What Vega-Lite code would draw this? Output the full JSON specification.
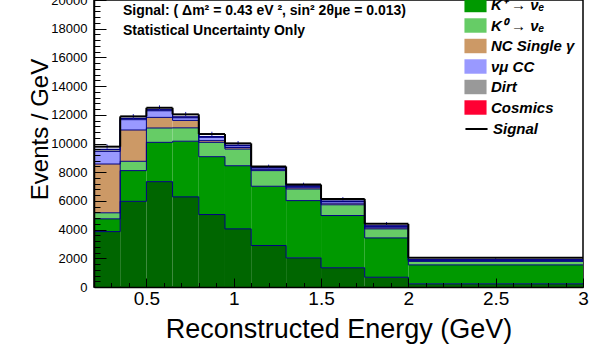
{
  "$schema": "https://vega.github.io/schema/vega-lite/v6.json",
  "width": 489,
  "height": 287,
  "autosize": {"type": "none"},
  "padding": {"left": 94, "top": 0, "right": 32, "bottom": 63},
  "background": "white",
  "config": {
    "view": {"stroke": "black", "strokeWidth": 1.5},
    "font": "Liberation Sans",
    "axis": {"labelFont": "Liberation Sans", "titleFont": "Liberation Sans"}
  },
  "title": {
    "text": ["Signal: ( Δm² = 0.43 eV ², sin² 2θμe = 0.013)", "Statistical Uncertainty Only"],
    "anchor": "start",
    "frame": "group",
    "orient": "top",
    "baseline": "top",
    "offset": 0,
    "dx": 29,
    "dy": 62,
    "fontSize": 14,
    "fontWeight": "bold",
    "font": "Liberation Sans",
    "color": "black",
    "lineHeight": 20
  },
  "datasets": {
    "bins": [
      {"lo": 0.2, "hi": 0.35, "mu": 3860, "kp": 890, "k0": 420, "ncg": 3400, "numu": 880, "dirt": 130, "cos": 20, "sig": 180},
      {"lo": 0.35, "hi": 0.5, "mu": 5970, "kp": 2140, "k0": 650, "ncg": 2180, "numu": 720, "dirt": 80, "cos": 20, "sig": 130},
      {"lo": 0.5, "hi": 0.65, "mu": 7340, "kp": 2740, "k0": 1000, "ncg": 740, "numu": 460, "dirt": 60, "cos": 20, "sig": 130},
      {"lo": 0.65, "hi": 0.8, "mu": 6280, "kp": 3880, "k0": 930, "ncg": 520, "numu": 180, "dirt": 50, "cos": 20, "sig": 170},
      {"lo": 0.8, "hi": 0.95, "mu": 5050, "kp": 4030, "k0": 1000, "ncg": 120, "numu": 230, "dirt": 40, "cos": 20, "sig": 170},
      {"lo": 0.95, "hi": 1.1, "mu": 4050, "kp": 4400, "k0": 1160, "ncg": 110, "numu": 120, "dirt": 30, "cos": 10, "sig": 130},
      {"lo": 1.1, "hi": 1.3, "mu": 2890, "kp": 4130, "k0": 1090, "ncg": 90, "numu": 100, "dirt": 20, "cos": 10, "sig": 70},
      {"lo": 1.3, "hi": 1.5, "mu": 2030, "kp": 3990, "k0": 810, "ncg": 90, "numu": 100, "dirt": 20, "cos": 10, "sig": 90},
      {"lo": 1.5, "hi": 1.75, "mu": 1340, "kp": 3640, "k0": 750, "ncg": 110, "numu": 120, "dirt": 20, "cos": 10, "sig": 150},
      {"lo": 1.75, "hi": 2.0, "mu": 680, "kp": 2740, "k0": 630, "ncg": 80, "numu": 100, "dirt": 20, "cos": 10, "sig": 140},
      {"lo": 2.0, "hi": 3.0, "mu": 220, "kp": 1320, "k0": 250, "ncg": 30, "numu": 60, "dirt": 10, "cos": 10, "sig": 130}
    ],
    "errs": [
      {"x": 0.275, "lo": 9630, "hi": 9930},
      {"x": 0.425, "lo": 11730, "hi": 12050},
      {"x": 0.575, "lo": 12320, "hi": 12660},
      {"x": 0.725, "lo": 11860, "hi": 12200},
      {"x": 0.875, "lo": 10500, "hi": 10820},
      {"x": 1.025, "lo": 9850, "hi": 10170},
      {"x": 1.2, "lo": 8270, "hi": 8530},
      {"x": 1.4, "lo": 7010, "hi": 7270},
      {"x": 1.625, "lo": 6020, "hi": 6260},
      {"x": 1.875, "lo": 4270, "hi": 4530},
      {"x": 2.5, "lo": 1970, "hi": 2090}
    ]
  },
  "resolve": {"axis": {"x": "independent", "y": "independent"}},
  "layer": [
    {
      "data": {"name": "bins"},
      "transform": [
        {"fold": ["mu", "kp", "k0", "ncg", "numu", "dirt", "cos", "sig"], "as": ["comp", "n"]},
        {"stack": "n", "groupby": ["lo"], "as": ["y0", "y1"]},
        {"filter": "datum.comp !== 'sig'"}
      ],
      "mark": {"type": "rect", "strokeWidth": 0},
      "encoding": {
        "x": {
          "field": "lo", "type": "quantitative",
          "scale": {"domain": [0.2, 3], "nice": false, "zero": false},
          "axis": {
            "orient": "bottom", "values": [0.5, 1, 1.5, 2, 2.5, 3], "format": "~g",
            "labelFontSize": 19, "labelColor": "black", "labelFlush": false, "labelOverlap": false,
            "tickSize": -9, "tickColor": "black", "tickWidth": 1,
            "domainColor": "black", "domainWidth": 1.5, "labelPadding": 11, "grid": false, "zindex": 1,
            "title": "Reconstructed Energy (GeV)", "titleFontSize": 27, "titleFontWeight": "normal",
            "titleColor": "black", "titlePadding": 8
          }
        },
        "x2": {"field": "hi"},
        "y": {
          "field": "y0", "type": "quantitative",
          "scale": {"domain": [0, 20000], "nice": false},
          "axis": {
            "orient": "left", "values": [0, 2000, 4000, 6000, 8000, 10000, 12000, 14000, 16000, 18000, 20000],
            "format": "d", "labelFontSize": 13, "labelColor": "black", "labelFlush": false, "labelOverlap": false,
            "tickSize": -12, "tickColor": "black", "tickWidth": 1,
            "domainColor": "black", "domainWidth": 1.5, "labelPadding": 19, "grid": false, "zindex": 1,
            "title": "Events / GeV", "titleFontSize": 24, "titleFontWeight": "normal", "titleColor": "black",
            "titleX": -47, "titleY": 129, "titleAlign": "center", "titleBaseline": "alphabetic", "titleAngle": 270
          }
        },
        "y2": {"field": "y1"},
        "color": {
          "field": "comp", "type": "nominal",
          "scale": {
            "domain": ["mu", "kp", "k0", "ncg", "numu", "dirt", "cos"],
            "range": ["#006600", "#009900", "#66cc66", "#cc9966", "#9999ff", "#999999", "#ff0033"]
          },
          "legend": {
            "orient": "none", "legendX": 373, "legendY": -24, "title": null, "padding": 0,
            "symbolType": "M-1.3,-0.85H1.3V0.85H-1.3Z", "symbolStrokeWidth": 0,
            "symbolSize": 289, "labelFontSize": 15, "labelFont": "Liberation Sans",
            "labelFontWeight": "bold", "labelFontStyle": "italic", "labelColor": "black",
            "labelOffset": 7, "rowPadding": 3.5, "symbolOpacity": 1, "labelLimit": 200,
            "labelExpr": "{'mu': 'μ → νₑ', 'kp': 'K⁺ → νₑ', 'k0': 'K⁰ → νₑ', 'ncg': 'NC Single γ', 'numu': 'νμ CC', 'dirt': 'Dirt', 'cos': 'Cosmics'}[datum.value]"
          }
        }
      }
    },
    {
      "data": {"name": "bins"},
      "transform": [
        {"fold": ["mu", "kp", "k0", "ncg", "numu", "dirt", "cos", "sig"], "as": ["comp", "n"]},
        {"stack": "n", "groupby": ["lo"], "as": ["y0", "y1"]},
        {"filter": "datum.comp !== 'sig'"}
      ],
      "mark": {"type": "rule", "color": "#000080", "strokeWidth": 1},
      "encoding": {
        "x": {"field": "lo", "type": "quantitative", "axis": null},
        "x2": {"field": "hi"},
        "y": {"field": "y1", "type": "quantitative", "axis": null}
      }
    },
    {
      "data": {"name": "bins"},
      "transform": [
        {"fold": ["mu", "kp", "k0", "ncg", "numu", "dirt", "cos", "sig"], "as": ["comp", "n"]},
        {"stack": "n", "groupby": ["lo"], "as": ["y0", "y1"]},
        {"filter": "datum.comp !== 'sig'"},
        {"window": [{"op": "lead", "field": "y1", "as": "y1n"}], "groupby": ["comp"], "sort": [{"field": "lo"}]},
        {"filter": "isValid(datum.y1n)"}
      ],
      "mark": {"type": "rule", "color": "#000080", "strokeWidth": 1},
      "encoding": {
        "x": {"field": "hi", "type": "quantitative", "axis": null},
        "y": {"field": "y1", "type": "quantitative", "axis": null},
        "y2": {"field": "y1n"}
      }
    },
    {
      "data": {"name": "errs"},
      "mark": {"type": "rule", "color": "#2020c0", "strokeWidth": 1},
      "encoding": {
        "x": {
          "field": "x", "type": "quantitative",
          "axis": {
            "orient": "bottom", "values": [0.3, 0.4, 0.6, 0.7, 0.8, 0.9, 1.1, 1.2, 1.3, 1.4, 1.6, 1.7, 1.8, 1.9, 2.1, 2.2, 2.3, 2.4, 2.6, 2.7, 2.8, 2.9],
            "labels": false, "domain": false, "grid": false, "tickSize": -4.5, "tickColor": "black", "tickWidth": 1, "title": null, "zindex": 1
          }
        },
        "y": {
          "field": "lo", "type": "quantitative",
          "axis": {
            "orient": "left", "values": [400, 800, 1200, 1600, 2400, 2800, 3200, 3600, 4400, 4800, 5200, 5600, 6400, 6800, 7200, 7600, 8400, 8800, 9200, 9600, 10400, 10800, 11200, 11600, 12400, 12800, 13200, 13600, 14400, 14800, 15200, 15600, 16400, 16800, 17200, 17600, 18400, 18800, 19200, 19600],
            "labels": false, "domain": false, "grid": false, "tickSize": -6, "tickColor": "black", "tickWidth": 1, "title": null, "zindex": 1
          }
        },
        "y2": {"field": "hi"}
      }
    },
    {
      "data": {"name": "bins"},
      "transform": [
        {"fold": ["mu", "kp", "k0", "ncg", "numu", "dirt", "cos", "sig"], "as": ["comp", "n"]},
        {"stack": "n", "groupby": ["lo"], "as": ["y0", "y1"]},
        {"filter": "datum.comp === 'sig'"}
      ],
      "mark": {"type": "rule", "strokeWidth": 2},
      "encoding": {
        "x": {"field": "lo", "type": "quantitative", "axis": null},
        "x2": {"field": "hi"},
        "y": {"field": "y1", "type": "quantitative", "axis": null},
        "stroke": {
          "field": "comp", "type": "nominal",
          "scale": {"domain": ["sig"], "range": ["black"]},
          "legend": {
            "orient": "none", "legendX": 373, "legendY": 119.5, "title": null, "padding": 0,
            "symbolType": "M-1.3,0H1.3", "symbolStrokeWidth": 2, "symbolSize": 289,
            "labelFontSize": 15, "labelFont": "Liberation Sans",
            "labelFontWeight": "bold", "labelFontStyle": "italic", "labelColor": "black",
            "labelOffset": 7, "labelExpr": "'Signal'"
          }
        }
      }
    },
    {
      "data": {"name": "bins"},
      "transform": [
        {"fold": ["mu", "kp", "k0", "ncg", "numu", "dirt", "cos", "sig"], "as": ["comp", "n"]},
        {"stack": "n", "groupby": ["lo"], "as": ["y0", "y1"]},
        {"filter": "datum.comp === 'sig'"},
        {"window": [{"op": "lead", "field": "y1", "as": "y1n"}], "sort": [{"field": "lo"}]},
        {"filter": "isValid(datum.y1n)"}
      ],
      "mark": {"type": "rule", "color": "black", "strokeWidth": 2},
      "encoding": {
        "x": {"field": "hi", "type": "quantitative", "axis": null},
        "y": {"field": "y1", "type": "quantitative", "axis": null},
        "y2": {"field": "y1n"}
      }
    }
  ]
}
